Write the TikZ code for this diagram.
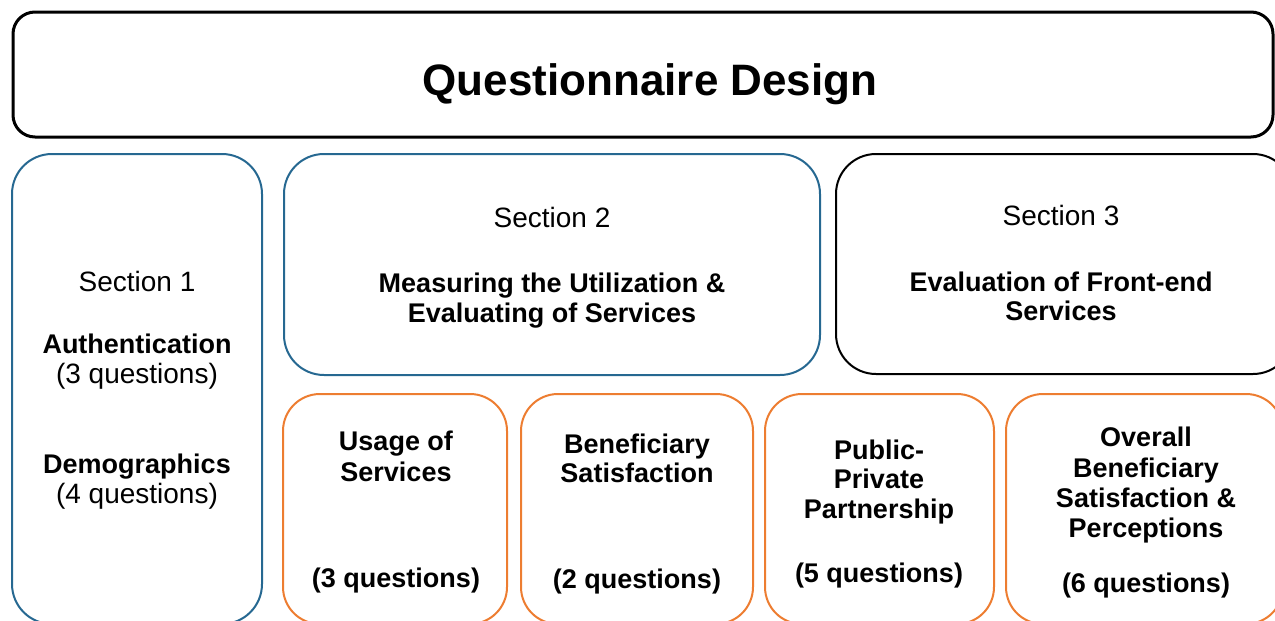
\documentclass[tikz,border=0pt]{standalone}
\usepackage{fontspec}
\setmainfont{Liberation Sans}
\definecolor{secblue}{RGB}{38,104,145}
\definecolor{suborange}{RGB}{237,125,49}
\begin{document}
\begin{tikzpicture}[x=1pt,y=-1pt,
  boxbase/.style={draw, rounded corners=40pt, line width=2pt, fill=none, inner sep=0pt},
  titlebox/.style={boxbase, rounded corners=22pt, line width=3pt, draw=black},
  bluebox/.style={boxbase, draw=secblue},
  blackbox/.style={boxbase, draw=black},
  orangebox/.style={boxbase, draw=suborange, rounded corners=37pt},
  reg/.style={anchor=base, inner sep=0pt, font=\fontsize{28}{30}\selectfont},
  bld/.style={anchor=base, inner sep=0pt, font=\fontsize{27}{30}\selectfont\bfseries},
  ttl/.style={anchor=base, inner sep=0pt, font=\fontsize{44}{48}\selectfont\bfseries}]
\useasboundingbox (0,0) rectangle (1275,621);
\clip (0,0) rectangle (1275,621);
% boxes
\draw[titlebox] (13,12) rectangle (1273,137);
\draw[bluebox] (12,154) rectangle (262,624);
\draw[bluebox] (284,154) rectangle (820,375);
\draw[blackbox] (836,154) rectangle (1293,374);
\draw[orangebox] (283,394) rectangle (507,624);
\draw[orangebox] (521,394) rectangle (753,624);
\draw[orangebox] (765,394) rectangle (994,624);
\draw[orangebox] (1006,394) rectangle (1283,624);
% title
\node[ttl] (title) at (650,95) {Questionnaire Design};
% section 1
\node[reg] (s1a) at (137,291) {Section 1};
\node[bld] (s1b) at (137,353) {Authentication};
\node[reg] (s1c) at (137,383) {(3 questions)};
\node[bld] (s1d) at (137,473) {Demographics};
\node[reg] (s1e) at (137,503) {(4 questions)};
% section 2
\node[reg] (s2a) at (552,227) {Section 2};
\node[bld] (s2b) at (552,292) {Measuring the Utilization \&};
\node[bld] (s2c) at (552,322) {Evaluating of Services};
% section 3
\node[reg] (s3a) at (1061,225) {Section 3};
\node[bld] (s3b) at (1061,291) {Evaluation of Front-end};
\node[bld] (s3c) at (1061,320) {Services};
% box A
\node[bld] (aa) at (396,450) {Usage of};
\node[bld] (ab) at (396,481) {Services};
\node[bld] (ac) at (396,587) {(3 questions)};
% box B
\node[bld] (ba) at (637,453) {Beneficiary};
\node[bld] (bb) at (637,482) {Satisfaction};
\node[bld] (bc) at (637,588) {(2 questions)};
% box C
\node[bld] (ca) at (879,459) {Public-};
\node[bld] (cb) at (879,488) {Private};
\node[bld] (cc) at (879,518) {Partnership};
\node[bld] (cd) at (879,582) {(5 questions)};
% box D
\node[bld] (da) at (1146,446) {Overall};
\node[bld] (db) at (1146,477) {Beneficiary};
\node[bld] (dc) at (1146,507) {Satisfaction \&};
\node[bld] (dd) at (1146,537) {Perceptions};
\node[bld] (de) at (1146,592) {(6 questions)};
\end{tikzpicture}
\end{document}
